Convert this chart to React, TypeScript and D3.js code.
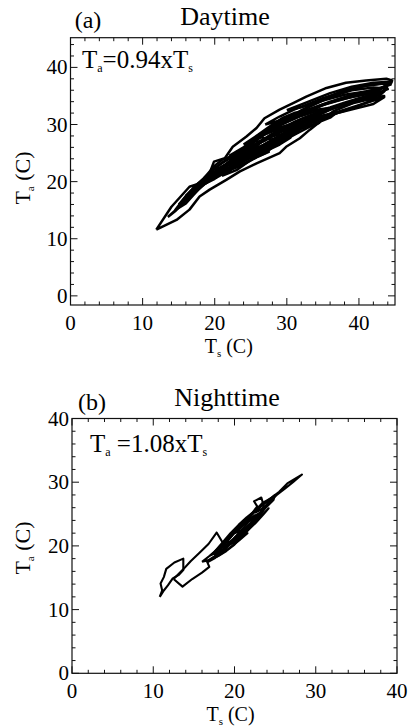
import React from "react";
import * as d3 from "d3";

const dayXTicks = [0, 10, 20, 30, 40];
const dayYTicks = [0, 10, 20, 30, 40];
const nightXTicks = [0, 10, 20, 30, 40];
const nightYTicks = [0, 10, 20, 30, 40];

// Daytime Ta vs Ts trajectories (Ts, Ta)
const dayLoops: [number, number][][] = [
  [[11.9,11.6],[14.0,15.6],[16.5,19.1],[17.9,19.7],[19.3,21.5],[19.9,23.5],[21.4,24.1],[22.5,26.1],[24.4,27.9],[25.8,29.4],[26.9,31.1],[29.0,32.6],[30.8,33.7],[32.7,34.9],[35.5,36.4],[38.2,37.3],[41.0,37.7],[43.8,38.0],[44.6,37.7],[44.5,37.3],[43.8,36.7],[43.3,35.8],[41.0,34.9],[38.7,33.5],[36.4,32.3],[33.2,29.1],[31.8,27.6],[29.9,26.1],[29.0,25.0],[25.8,23.2],[23.5,21.8],[21.6,20.3],[19.3,18.6],[17.9,17.4],[16.5,15.1],[14.7,13.3],[11.9,11.6]],
  [[13.5,13.8],[15,15.5],[17,17.8],[19,20],[21,22],[23,24],[25,26.5],[27,28.5],[29.5,30.5],[32,32.5],[35,34.5],[38,36],[41,36.8],[43.5,37.2],[44,36.2],[42,35.2],[39,34],[36,32.8],[33,31],[30,28.5],[27,26],[24.5,24],[22,22.3],[20,20.8],[18,19],[16,16.8],[14.5,14.8],[13.5,13.8]],
  [[16,16.5],[18,19.5],[20,21.5],[22,23],[24,25.5],[26,27.5],[28,29.5],[30,31],[33,33],[36,34.8],[39,36],[42,36.5],[43.8,36.3],[43,35.2],[40,34.2],[37,33.2],[34,31.5],[31,29.8],[29,28],[27,25.8],[25,24.4],[23,23],[21,21.5],[19,20.2],[17,18],[16,16.5]],
  [[18,19],[19.5,21],[21,22.5],[23,24.5],[25,26.5],[27,28.8],[29,30.5],[31,31.8],[33,32.5],[35,33.5],[37,34.2],[39,34.8],[42,35.5],[43.5,35.8],[42,34.8],[39,33.8],[36,32.6],[33,30.8],[30,28.5],[28,27],[26,25.2],[24,23.6],[22,22.5],[20,21],[18,19]],
  [[19,20],[21,22.3],[23,23.5],[25,25.3],[26.5,27],[28,28.2],[30,29.5],[32,30.5],[33.5,31],[31,28.3],[29,27.2],[27.5,26.1],[25,24.6],[23,23.2],[21,21.5],[19,20]],
  [[20,22],[21.5,23],[23,24.2],[24.5,25.8],[26,26.8],[28,28],[29.5,28.3],[30.5,27.7],[29,26.5],[27,25.3],[25,23.8],[23,22.5],[21.5,21.8],[20,22]],
  [[22,24.5],[24,26],[26,28],[28,29.5],[30,30.5],[32,31.5],[34,32.3],[36,33],[38,33.8],[40,34.6],[42,35.3],[43.7,36.8],[42.5,36],[40.5,35.3],[38,34.5],[35.5,33.6],[33,32.6],[30.5,31.3],[28,29.6],[26,27.5],[24,25.5],[22,24.5]],
  [[16,17.5],[18,19.8],[20,22.4],[22,24],[24,25],[26,25.6],[27.5,25.2],[26,24.4],[24,23],[22,22],[20,20.5],[18,19.2],[16,17.5]],
  [[24,25.8],[26,27.5],[28,29.3],[30,30.8],[32,31.8],[34,32.6],[35.5,32.8],[34.5,31.8],[32,30.5],[30,29.2],[28,28],[26,26.6],[24,25.8]],
  [[30,32.5],[33,34],[36,35.5],[39,36.6],[42,37.3],[44.3,37.5],[43.5,36.5],[41,35.8],[38,35.2],[35,34.2],[32,33],[30,32.5]],
  [[14.5,15],[16,17.5],[17.5,19.5],[19,21],[20,21.8],[19,20.5],[17.5,18.3],[16,16.2],[14.5,15]],
  [[21,21],[23,22.8],[25,24.6],[27,26.2],[29,27.5],[31,28.8],[32.5,29.5],[31,29],[29,27],[27,25],[25,23.8],[23,22],[21,21]],
  [[15,16],[17,18.8],[19,21.2],[21,23.3],[23,25],[25,26.8],[27,28.3],[29,29.5],[31,30.2],[33,30.6],[34.5,30.3],[33,29.5],[31,28.2],[29,26.8],[27,25.5],[25,24.2],[23,23],[21,21.8],[19,20.2],[17,18],[15,16]],
  [[22,23.8],[24,25.2],[26,26.8],[28,28.4],[30,29.8],[32,31],[34,32],[36,32.8],[38,33.4],[40,34],[42,34.6],[43.5,35],[41,33.8],[38,32.4],[35,31.2],[32,29.8],[29,27.8],[26,25.6],[24,24.2],[22,23.8]],
  [[25,27.2],[27,28.6],[29,29.8],[31,31],[33,32.2],[35,33.4],[37,34.4],[39,35.2],[41,35.8],[43,36.2],[41,34.8],[38,33.6],[35,32.2],[32,30.4],[30,29.2],[28,28],[26,27],[25,27.2]],
  [[20,21.5],[22,23.5],[24,24.8],[26,26],[28,27.2],[30,28.2],[31.5,28.6],[30,27.6],[28,26.4],[26,25],[24,23.6],[22,22.4],[20,21.5]],
  [[23,25.2],[25,26.2],[27,27.2],[29,28.6],[31,30],[33,30.8],[35,31.6],[37,32.2],[36,31.2],[34,30.2],[32,29.4],[30,28],[28,26.8],[26,25.4],[24,24.6],[23,25.2]],
  [[27,30],[29,31.4],[31,32.6],[33,33.6],[35,34.6],[37,35.4],[39,36.2],[41,36.8],[43,37.2],[44.4,37],[42,36],[39,35],[36,34],[33,32.6],[30,31],[27,30]],
  [[18.5,20.6],[20,22.8],[21,23.8],[23,24.8],[25,25.6],[26.5,26.2],[25,25],[23,23.8],[21,22.6],[19.5,21.2],[18.5,20.6]],
  [[26,27.8],[28,28.8],[30,29.6],[32,30.2],[34,31.0],[36,31.8],[38,32.6],[40,33.4],[42,34.2],[43.5,34.8],[42,33.6],[39.5,32.8],[37,32],[34,30.6],[31,29],[28,27.4],[26,27.8]],
  [[21,22.5],[23,24],[25,25.7],[27,27.4],[29,29],[31,30.4],[33,31.4],[35,32.4],[33.5,31.2],[31.5,30],[29.5,28.4],[27.5,27],[25.5,25.4],[23.5,24],[21,22.5]],
  [[24,26.5],[26,28.2],[28,30],[29.5,31.2],[31,32],[32.5,32.4],[31,31.2],[29,30],[27,28.4],[25,26.8],[24,26.5]],
];

// Nighttime Ta vs Ts trajectories (Ts, Ta)
const nightLoops: [number, number][][] = [
  [[10.8,12.0],[11.1,13.0],[10.9,14.1],[11.3,15.1],[11.6,16.4],[12.6,17.4],[13.7,18.0],[13.7,16.2],[13.1,15.4],[12.4,14.9],[11.8,13.8],[11.3,13.0],[10.8,12.0]],
  [[12.5,14.8],[13.6,13.6],[14.8,14.8],[16.0,15.8],[16.9,16.7],[16.6,17.6],[17.6,18.4],[18.8,19.4],[19.5,20.5],[18.5,20.6],[17.8,22.1],[16.8,20.3],[15.6,18.8],[14.6,17.6],[13.6,16.2],[12.5,14.8]],
  [[16,17.5],[17.5,19.0],[18.5,20.5],[19.5,22.0],[20.5,23.3],[21.5,24.5],[22.5,25.5],[23.5,26.8],[24.5,27.5],[23.7,25.8],[23,24.5],[22,23],[21,21.5],[20,20.2],[19,19.2],[18,18.4],[17,17.8],[16,17.5]],
  [[17.5,18.6],[18.8,20.8],[19.8,21.9],[21,23.2],[22,24.2],[22.5,24.8],[22.0,23.6],[21.2,22.4],[20.2,21.3],[19.2,20.0],[18.2,19.0],[17.5,18.6]],
  [[19,20.5],[20,22.2],[21,23.5],[22.2,25.2],[22.8,26.2],[22.4,27.0],[23.3,27.6],[23.6,26.3],[23.1,25],[22.4,23.8],[21.5,22.6],[20.5,21.4],[19.5,20.6],[19,20.5]],
  [[22.5,25.2],[23.5,26.5],[24.5,27.5],[25.5,28.5],[26.5,29.8],[28.3,31.2],[27.2,30.0],[26.2,29.0],[25.2,28.0],[24.2,26.8],[23.4,25.8],[22.5,25.2]],
  [[18,19.3],[19.3,21.0],[20.3,22.5],[21.3,23.8],[22.2,24.5],[23,25.1],[22.3,24.0],[21.3,22.8],[20.2,21.5],[19.2,20.3],[18,19.3]],
  [[17,18.5],[18.5,20.2],[19.5,21.4],[20.5,22.8],[21.5,23.6],[22.5,24.4],[23.5,25.6],[22.8,24.2],[21.8,23],[20.8,21.8],[19.8,20.6],[18.8,19.6],[17,18.5]],
  [[19.5,21.8],[20.5,22.4],[21.5,23.9],[22.8,25.8],[24,27],[25,28],[24.8,27.2],[24,26.2],[23,25],[22,23.5],[21,22.4],[19.5,21.8]],
  [[16.6,17.4],[17.6,18.1],[18.6,19.0],[19.6,19.9],[20.6,20.9],[21.6,22.0],[20.8,21.4],[19.8,20.5],[18.8,19.7],[17.8,18.6],[16.6,17.4]],
  [[18.2,19.8],[19.2,21.3],[20.2,22.6],[21.2,24.0],[22.0,24.9],[21.6,23.6],[20.8,22.4],[19.8,21.0],[18.8,20.0],[18.2,19.8]],
  [[20.2,21.0],[21.2,22.0],[22.2,23.2],[23.2,24.6],[24.2,25.9],[23.6,25.0],[22.6,23.6],[21.6,22.4],[20.6,21.4],[20.2,21.0]],
];

const FONT = "'Liberation Serif', 'Times New Roman', serif";

type PanelProps = {
  left: number; right: number; top: number; bottom: number;
  xDomain: [number, number]; yDomain: [number, number];
  xTicks: number[]; yTicks: number[];
  loops: [number, number][][];
  tag: string; title: string; coef: string; coefGap: string;
  strokeW: number;
  tagX: number; tagY: number; titleX: number; titleY: number;
  eqX: number; eqY: number; yTitleY: number;
};

function Panel(p: PanelProps) {
  const x = d3.scaleLinear().domain(p.xDomain).range([p.left, p.right]);
  const y = d3.scaleLinear().domain(p.yDomain).range([p.bottom, p.top]);
  const line = d3.line<[number, number]>().x(d => x(d[0])).y(d => y(d[1]));
  const xMinor = d3.range(Math.ceil(p.xDomain[0] / 2) * 2, p.xDomain[1] + 0.001, 2).filter(v => !p.xTicks.includes(v));
  const yMinor = d3.range(Math.ceil(p.yDomain[0] / 2) * 2, p.yDomain[1] + 0.001, 2).filter(v => !p.yTicks.includes(v));
  const maj = 7, mnr = 3.5;
  const tk = { stroke: "#111", strokeWidth: 1 };
  const cx = (p.left + p.right) / 2;
  return (
    <g>
      <rect x={p.left} y={p.top} width={p.right - p.left} height={p.bottom - p.top} fill="none" stroke="#111" strokeWidth={1.2} />
      {p.xTicks.map(v => (
        <g key={"xt" + v}>
          <line x1={x(v)} x2={x(v)} y1={p.bottom} y2={p.bottom - maj} {...tk} />
          <line x1={x(v)} x2={x(v)} y1={p.top} y2={p.top + maj} {...tk} />
          <text x={x(v)} y={p.bottom + 25} textAnchor="middle" fontSize={21} fontFamily={FONT}>{v}</text>
        </g>
      ))}
      {xMinor.map(v => (
        <g key={"xm" + v}>
          <line x1={x(v)} x2={x(v)} y1={p.bottom} y2={p.bottom - mnr} {...tk} />
          <line x1={x(v)} x2={x(v)} y1={p.top} y2={p.top + mnr} {...tk} />
        </g>
      ))}
      {p.yTicks.map(v => (
        <g key={"yt" + v}>
          <line x1={p.left} x2={p.left + maj} y1={y(v)} y2={y(v)} {...tk} />
          <line x1={p.right} x2={p.right - maj} y1={y(v)} y2={y(v)} {...tk} />
          <text x={p.left - 3} y={y(v) + 7} textAnchor="end" fontSize={21} fontFamily={FONT}>{v}</text>
        </g>
      ))}
      {yMinor.map(v => (
        <g key={"ym" + v}>
          <line x1={p.left} x2={p.left + mnr} y1={y(v)} y2={y(v)} {...tk} />
          <line x1={p.right} x2={p.right - mnr} y1={y(v)} y2={y(v)} {...tk} />
        </g>
      ))}
      {p.loops.map((l, i) => (
        <path key={"l" + i} d={line(l) || ""} fill="none" stroke="#000" strokeWidth={p.strokeW} strokeLinejoin="round" />
      ))}
      <text x={p.tagX} y={p.tagY} textAnchor="middle" fontSize={24} fontFamily={FONT}>{p.tag}</text>
      <text x={p.titleX} y={p.titleY} textAnchor="middle" fontSize={26} fontFamily={FONT}>{p.title}</text>
      <text x={p.eqX} y={p.eqY} fontSize={25} fontFamily={FONT}>
        T<tspan fontSize={12} dy={4}>a</tspan><tspan dy={-4}>{p.coefGap + "=" + p.coef + "xT"}</tspan><tspan fontSize={12} dy={4}>s</tspan>
      </text>
      <text x={cx - 4} y={p.bottom + 48} textAnchor="middle" fontSize={20} fontFamily={FONT}>
        T<tspan fontSize={11} dy={4}>s</tspan><tspan dy={-4}> (C)</tspan>
      </text>
      <text transform={`translate(30,${p.yTitleY}) rotate(-90)`} textAnchor="middle" fontSize={22} fontFamily={FONT}>
        T<tspan fontSize={11} dy={4}>a</tspan><tspan dy={-4}> (C)</tspan>
      </text>
    </g>
  );
}

export default function App() {
  return (
    <svg width={408} height={727} style={{ position: "absolute", left: 0, top: 0, background: "#fff" }}>
      <rect width={408} height={727} fill="#fff" />
      <Panel left={70.5} right={395} top={37.7} bottom={305}
        xDomain={[0, 45]} yDomain={[-1.6, 45.2]} xTicks={dayXTicks} yTicks={dayYTicks}
        loops={dayLoops} tag="(a)" title="Daytime" coef="0.94" coefGap="" strokeW={2.5}
        tagX={88} tagY={28} titleX={225} titleY={25} eqX={82} eqY={68} yTitleY={178} />
      <Panel left={72} right={397} top={418.5} bottom={673.3}
        xDomain={[0, 40]} yDomain={[0, 40]} xTicks={nightXTicks} yTicks={nightYTicks}
        loops={nightLoops} tag="(b)" title="Nighttime" coef="1.08" coefGap=" " strokeW={2.1}
        tagX={92} tagY={410} titleX={227} titleY={406} eqX={90} eqY={452} yTitleY={548} />
    </svg>
  );
}
